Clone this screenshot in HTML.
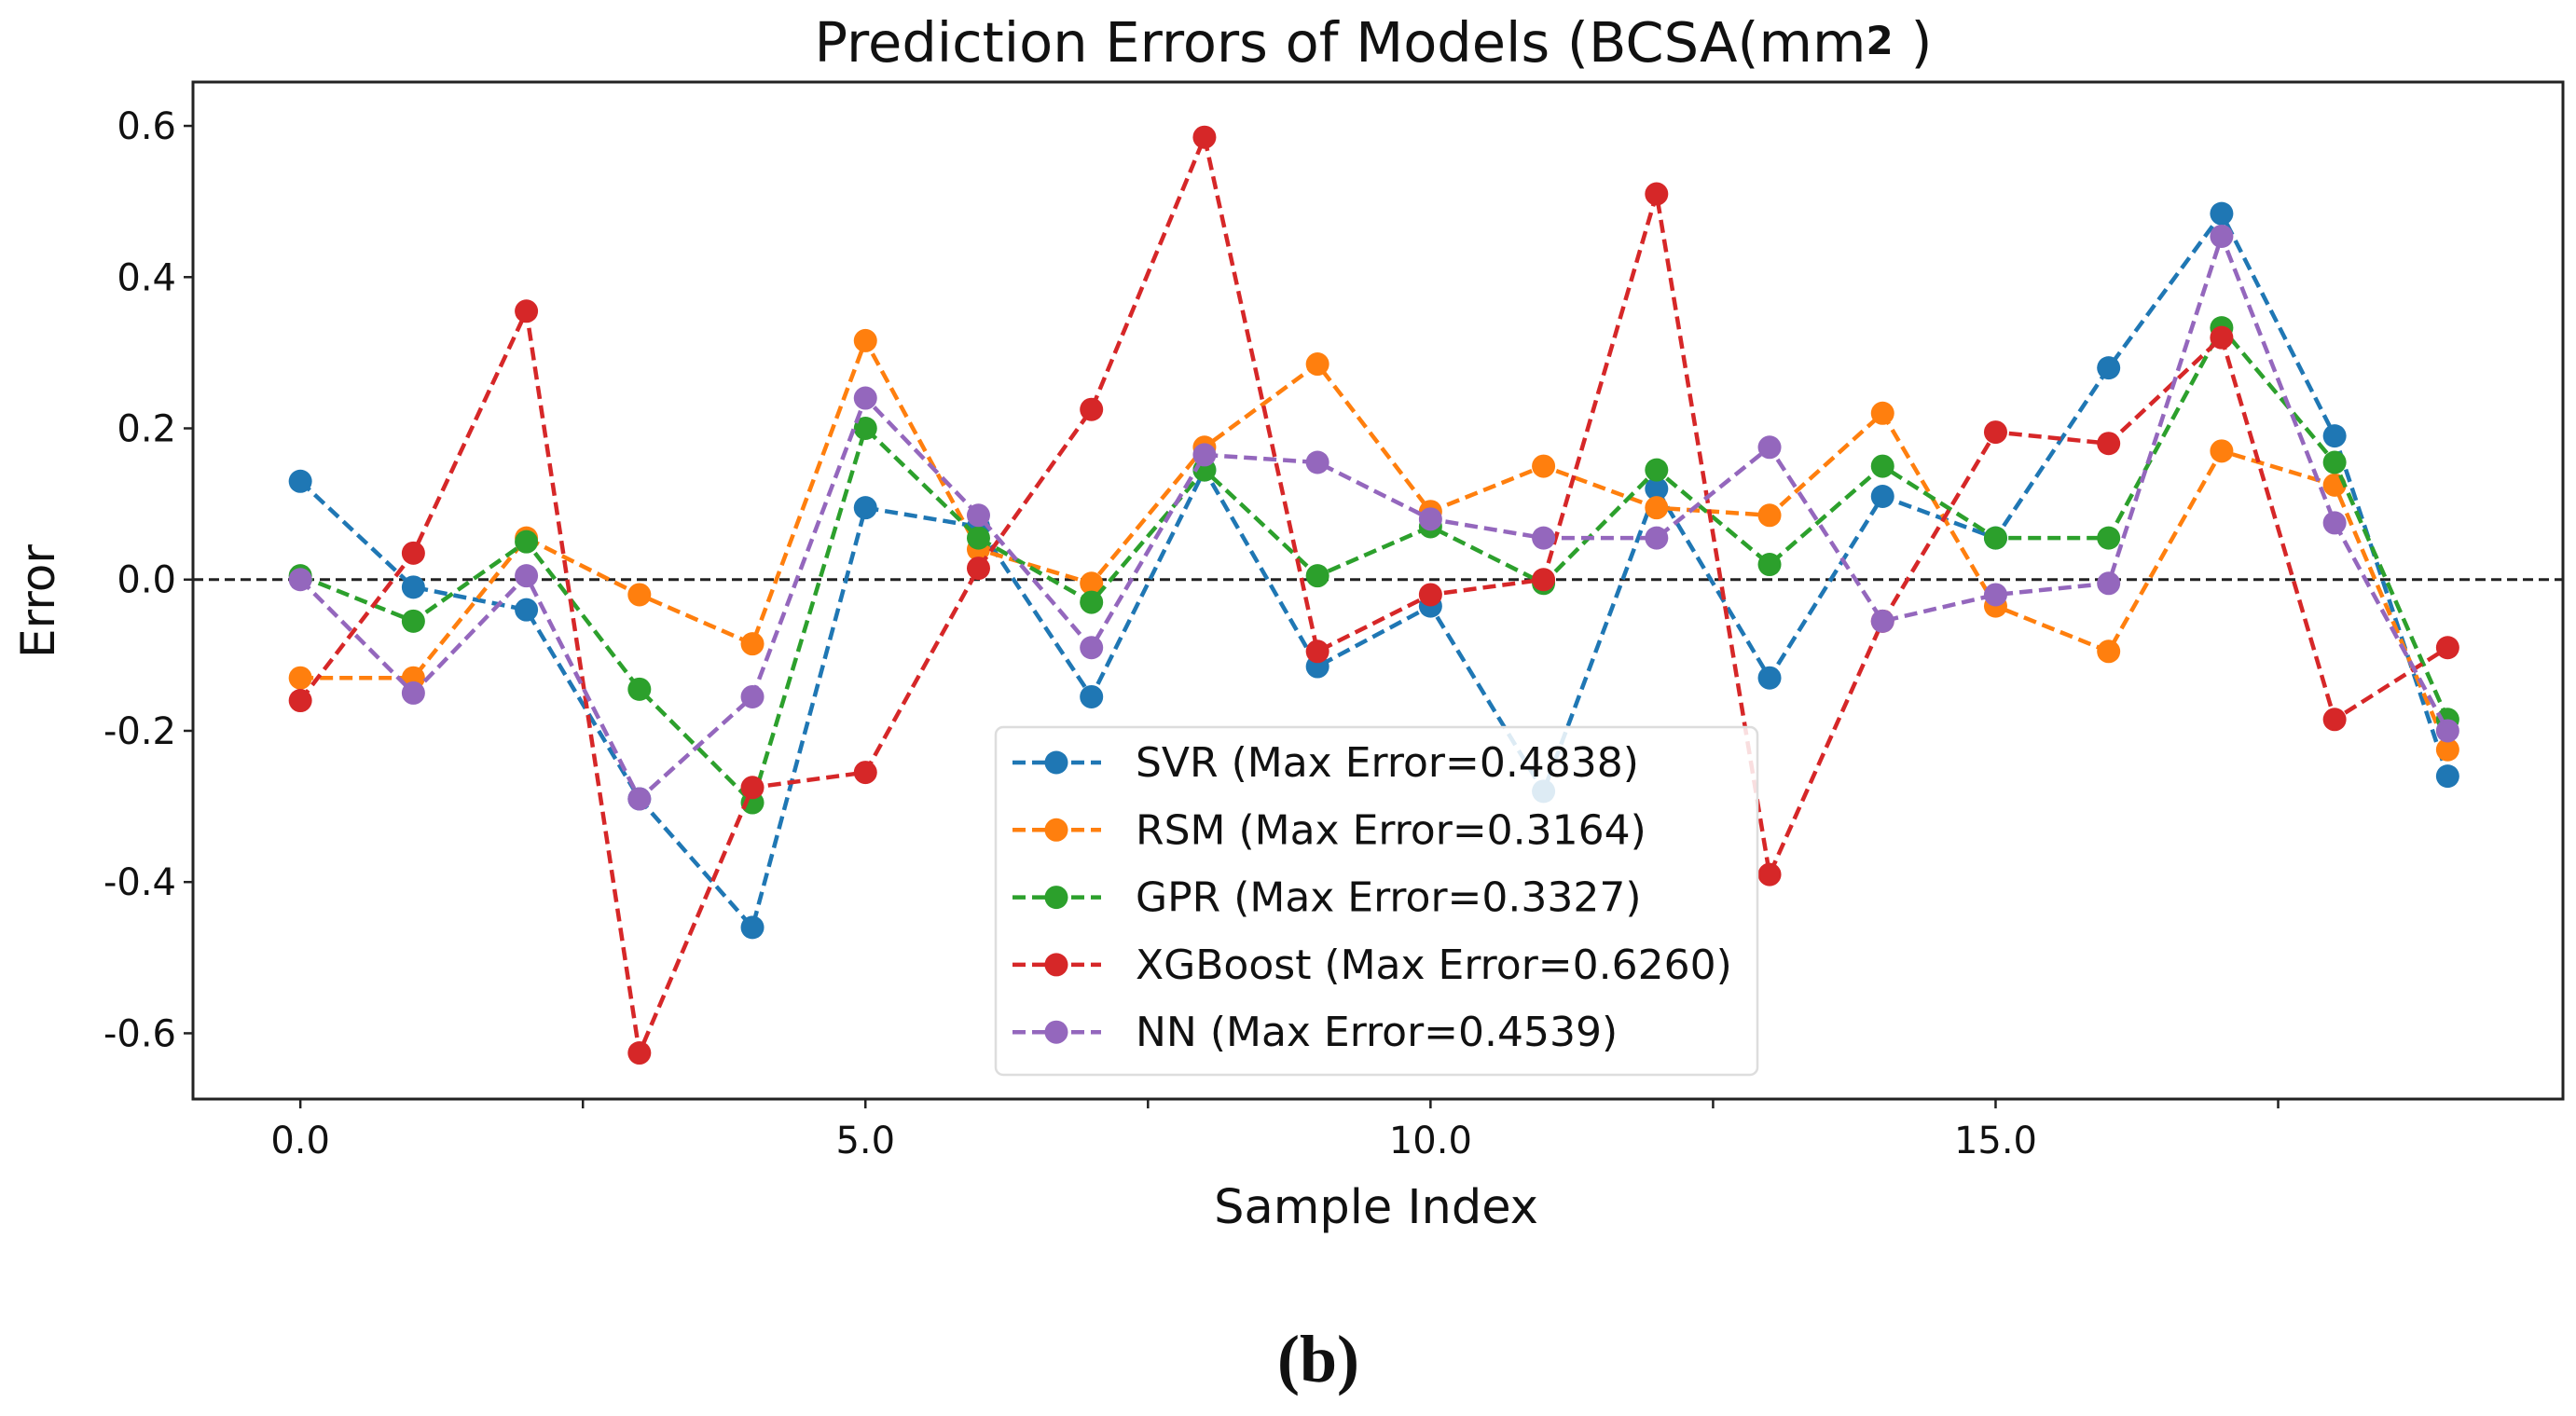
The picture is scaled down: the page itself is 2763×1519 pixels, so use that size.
<!DOCTYPE html>
<html><head><meta charset="utf-8"><style>
body{margin:0;background:#fff;}
svg{display:block;font-family:"DejaVu Sans","Liberation Sans",sans-serif;}
</style></head><body>
<svg id="chart" width="2763" height="1519" viewBox="0 0 2763 1519" xmlns="http://www.w3.org/2000/svg">
<text x="1473" y="66" font-size="59" text-anchor="middle" fill="#111">Prediction Errors of Models (BCSA(mm<tspan font-weight="bold" font-size="42" dy="-8">2</tspan><tspan dy="8"> )</tspan></text>
<g id="plot"></g>
<text x="58" y="645" font-size="50" text-anchor="middle" transform="rotate(-90 58 645)" fill="#111">Error</text>
<text x="1476" y="1312" font-size="51" text-anchor="middle" fill="#111">Sample Index</text>
<text x="1370" y="1482" font-size="72" font-weight="bold" font-family="Liberation Serif, serif" fill="#111">(b)</text>
</svg>
<script>
const sampleIdx=[0,1,2,3,4,5,6,7,8,9,10,11,12,13,14,15,16,17,18,19];
const seriesNames=["SVR (Max Error=0.4838)","RSM (Max Error=0.3164)","GPR (Max Error=0.3327)","XGBoost (Max Error=0.6260)","NN (Max Error=0.4539)"];
const seriesColors=["#1f77b4","#ff7f0e","#2ca02c","#d62728","#9467bd"];
const svrVals=[0.13,-0.01,-0.04,-0.29,-0.46,0.095,0.07,-0.155,0.145,-0.115,-0.035,-0.28,0.12,-0.13,0.11,0.055,0.28,0.484,0.19,-0.26];
const rsmVals=[-0.13,-0.13,0.055,-0.02,-0.085,0.316,0.04,-0.005,0.175,0.285,0.09,0.15,0.095,0.085,0.22,-0.035,-0.095,0.17,0.125,-0.225];
const gprVals=[0.005,-0.055,0.05,-0.145,-0.295,0.2,0.055,-0.03,0.145,0.005,0.07,-0.005,0.145,0.02,0.15,0.055,0.055,0.333,0.155,-0.185];
const xgbVals=[-0.16,0.035,0.355,-0.626,-0.275,-0.255,0.015,0.225,0.585,-0.095,-0.02,0.0,0.51,-0.39,-0.055,0.195,0.18,0.32,-0.185,-0.09];
const nnVals=[0.0,-0.15,0.005,-0.29,-0.155,0.24,0.085,-0.09,0.165,0.155,0.08,0.055,0.055,0.175,-0.055,-0.02,-0.005,0.454,0.075,-0.2];
const yTicks=[-0.6,-0.4,-0.2,0.0,0.2,0.4,0.6];
const yTickLabels=["-0.6","-0.4","-0.2","0.0","0.2","0.4","0.6"];
const xTicks=[0,2.5,5,7.5,10,12.5,15,17.5];
const xTickLabels=["0.0","","5.0","","10.0","","15.0",""];

const NS="http://www.w3.org/2000/svg";
const L=207,R=2749,T=88,B=1179;
const xMin=-0.95,xMax=20.02,yMin=-0.687,yMax=0.658;
const xs=v=>L+(v-xMin)/(xMax-xMin)*(R-L);
const ys=v=>B-(v-yMin)/(yMax-yMin)*(B-T);
const g=document.getElementById('plot');
function mk(tag,attrs,parent){const e=document.createElementNS(NS,tag);for(const k in attrs)e.setAttribute(k,attrs[k]);(parent||g).appendChild(e);return e;}

const zl=mk('line',{x1:L,x2:R,y1:ys(0),y2:ys(0),stroke:'#222','stroke-width':3,'stroke-dasharray':'11,6'});



const all=[svrVals,rsmVals,gprVals,xgbVals,nnVals];
const keys=['svr','rsm','gpr','xgboost','nn'];
all.forEach((vals,si)=>{
  const pts=sampleIdx.map((x,i)=>xs(x)+','+ys(vals[i])).join(' ');
  const pl=mk('polyline',{points:pts,fill:'none',stroke:seriesColors[si],'stroke-width':4.5,'stroke-dasharray':'14,7'});
  
  
  sampleIdx.forEach((x,i)=>{
    const c=mk('circle',{cx:xs(x),cy:ys(vals[i]),r:12.5,fill:seriesColors[si]});
    
    
  });
});

const fr=mk('rect',{x:L,y:T,width:R-L,height:B-T,fill:'none',stroke:'#222','stroke-width':3});



yTicks.forEach((v,i)=>{
  const t=mk('line',{x1:L-10,x2:L,y1:ys(v),y2:ys(v),stroke:'#222','stroke-width':2.5});
  
  
  const lb=mk('text',{x:L-18,y:ys(v)+14,'font-size':40,'text-anchor':'end',fill:'#111'});
  lb.textContent=yTickLabels[i];
  
  
});
xTicks.forEach((v,i)=>{
  const t=mk('line',{x1:xs(v),x2:xs(v),y1:B,y2:B+10,stroke:'#222','stroke-width':2.5});
  
  
  if(xTickLabels[i]){
    const lb=mk('text',{x:xs(v),y:B+58,'font-size':40,'text-anchor':'middle',fill:'#111'});
    lb.textContent=xTickLabels[i];
    
    
  }
});

const lg=mk('g',{});


mk('rect',{x:1068,y:780,width:817,height:373,rx:8,fill:'#fff','fill-opacity':0.85,stroke:'#ddd','stroke-width':2.5},lg);
seriesNames.forEach((n,i)=>{
  const y=818+i*72.3;
  const e=mk('g',{},lg);
  
  
  mk('line',{x1:1086,x2:1181,y1:y,y2:y,stroke:seriesColors[i],'stroke-width':4.5,'stroke-dasharray':'14,7'},e);
  mk('circle',{cx:1133,cy:y,r:12.5,fill:seriesColors[i]},e);
  const t=mk('text',{x:1218,y:y+15,'font-size':44,fill:'#111'},e);
  t.textContent=n;
});
</script>
</body></html>
